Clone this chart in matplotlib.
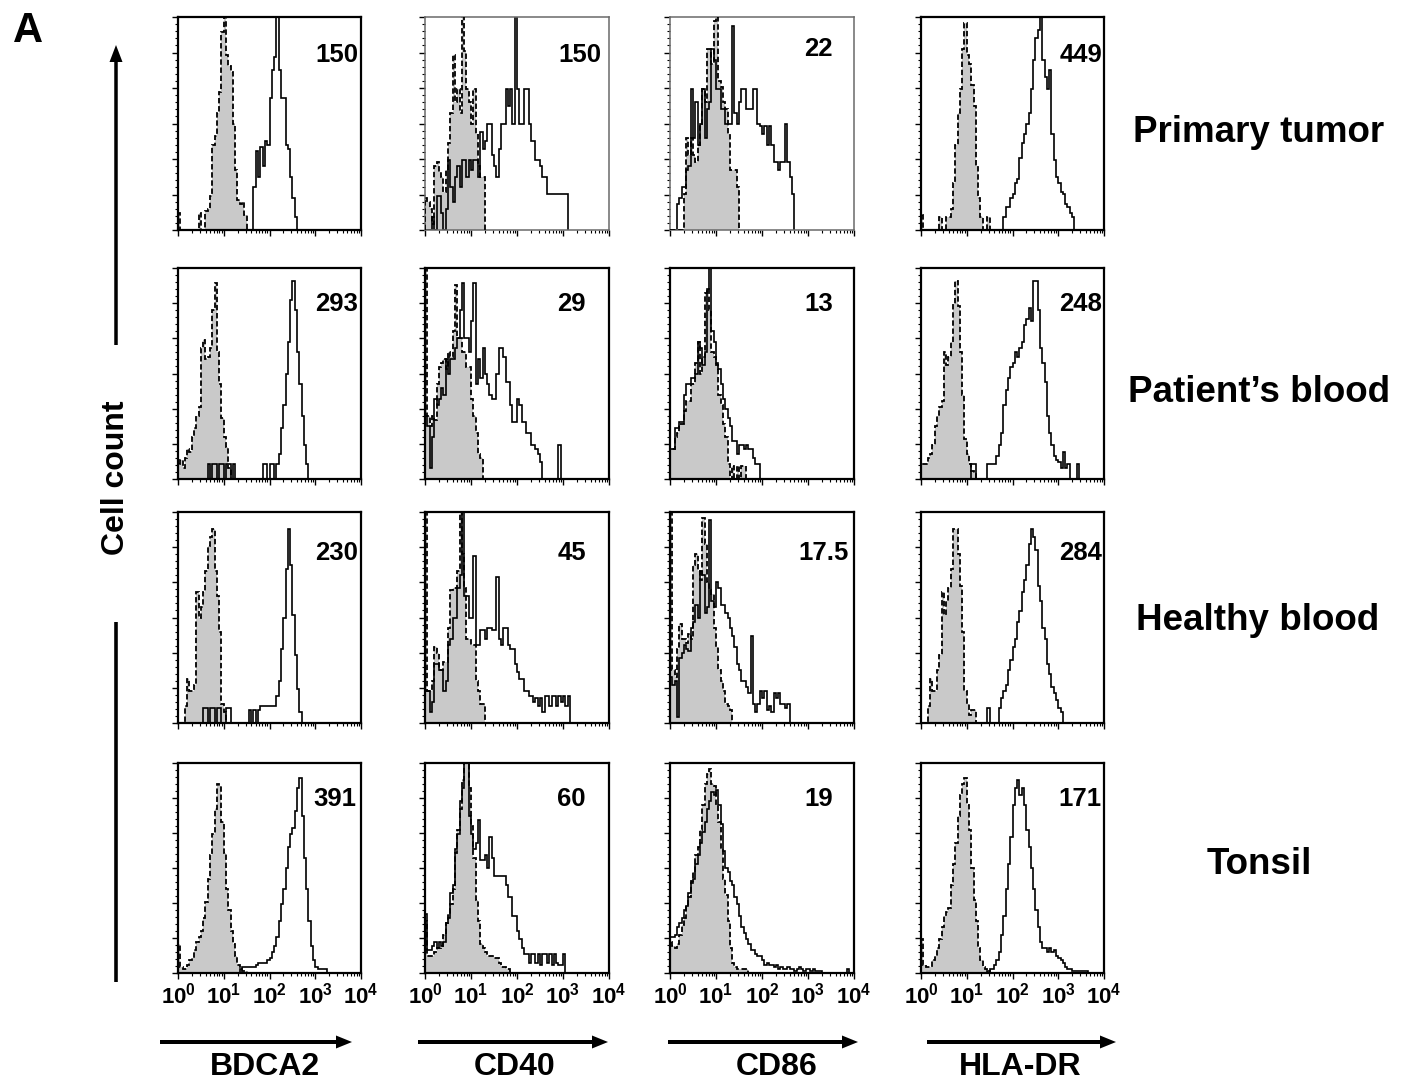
import numpy as np
import matplotlib
matplotlib.use('Agg')
import matplotlib.pyplot as plt
from matplotlib.ticker import MultipleLocator, LogLocator, NullFormatter

plt.rcParams['font.family'] = ['Liberation Sans', 'DejaVu Sans']
plt.rcParams['font.weight'] = 'bold'
plt.rcParams['mathtext.fontset'] = 'custom'
plt.rcParams['mathtext.rm'] = 'Liberation Sans:bold'
plt.rcParams['mathtext.bf'] = 'Liberation Sans:bold'
plt.rcParams['mathtext.it'] = 'Liberation Sans:bold'

# ---------------- data ----------------
BIN_WIDTH = 0.05          # decades per histogram channel, starting at 10^0
ROWS = ['Primary tumor', 'Patient\u2019s blood', 'Healthy blood', 'Tonsil']
MARKERS = ['BDCA2', 'CD40', 'CD86', 'HLA-DR']
MFI = [['150', '150', '22', '449'],
       ['293', '29', '13', '248'],
       ['230', '45', '17.5', '284'],
       ['391', '60', '19', '171']]
DECADES = [0, 1, 2, 3, 4]
TICK_LABELS = [r'$10^{0}$', r'$10^{1}$', r'$10^{2}$', r'$10^{3}$', r'$10^{4}$']

# counts in % of axis height; gray = isotype control, open = specific stain
TUMOR_BDCA2_ISO = [8, 0, 0, 0, 0, 0, 0, 0, 0, 8, 0, 0, 9, 10, 16, 40, 44, 55, 65, 93, 102, 82, 77, 74, 50, 28, 14, 12, 13, 7]
TUMOR_BDCA2_POS = [0] * 33 + [20, 37, 25, 39, 30, 42, 40, 62, 75, 81, 105, 75, 62, 62, 40, 38, 25, 15, 6]
TUMOR_CD40_ISO = [15, 13, 10, 3, 30, 32, 27, 25, 18, 28, 41, 55, 82, 60, 66, 55, 102, 84, 66, 60, 50, 66, 45, 30, 25, 25]
TUMOR_CD40_POS = [0, 0, 0, 6, 0, 16, 16, 8, 0, 10, 33, 20, 13, 25, 30, 20, 33, 33, 25, 33, 28, 33, 33, 25, 46, 38, 42, 50, 50,
                  35, 30, 25, 38, 50, 50, 66, 58, 66, 50, 104, 66, 50, 50, 66, 66, 50, 42, 42, 33, 33, 30, 25, 25, 17, 17, 17,
                  17, 17, 17, 17, 17, 17]
TUMOR_CD86_ISO = [0] * 6 + [17, 43, 35, 43, 35, 32, 40, 50, 66, 60, 85, 85, 78, 98, 100, 70, 67, 60, 57, 45, 28, 28, 28, 20]
TUMOR_CD86_POS = [0] * 3 + [12, 15, 20, 20, 28, 30, 66, 43, 60, 40, 50, 66, 43, 57, 60, 85, 80, 66, 66, 57, 57, 50, 50, 50, 96,
                            55, 50, 60, 66, 66, 57, 57, 57, 66, 66, 50, 49, 45, 49, 40, 49, 40, 32, 32, 28, 32, 32, 50, 32, 25, 17]
TUMOR_HLADR_ISO = [7, 0, 0, 0, 0, 0, 0, 0, 6, 0, 0, 6, 6, 10, 22, 40, 55, 66, 85, 97, 82, 78, 68, 58, 30, 15, 6, 0, 0, 6]
TUMOR_HLADR_POS = [0] * 36 + [6, 11, 11, 15, 17, 22, 24, 34, 41, 45, 50, 55, 66, 80, 90, 94, 103, 80, 72, 66, 75, 45, 33, 25,
                              22, 18, 17, 12, 11, 8, 6]

PATIENT_BDCA2_ISO = [7, 9, 5, 10, 14, 13, 20, 24, 30, 34, 62, 66, 57, 58, 62, 80, 93, 60, 45, 29, 20, 15, 5]
PATIENT_BDCA2_POS = [0] * 13 + [7, 0, 7, 7, 0, 7, 7, 0, 7, 7, 0, 7] + [0] * 12 + \
    [7, 7, 0, 7, 7, 0, 7, 12, 24, 35, 50, 65, 85, 94, 80, 60, 45, 30, 16, 7]
PATIENT_CD40_ISO = [100, 30, 25, 30, 28, 45, 53, 55, 57, 52, 60, 58, 70, 92, 67, 67, 60, 60, 53, 53, 38, 30, 22, 12, 10]
PATIENT_CD40_POS = [30, 25, 5, 20, 38, 35, 38, 43, 40, 57, 50, 57, 57, 62, 67, 80, 93, 67, 67, 60, 75, 93, 45, 57, 48, 62, 50,
                    45, 40, 38, 38, 50, 62, 62, 58, 46, 46, 35, 27, 27, 38, 35, 27, 27, 22, 22, 16, 16, 14, 12, 8,
                    0, 0, 0, 0, 0, 0, 0, 16]
PATIENT_CD86_ISO = [14, 14, 20, 22, 26, 26, 32, 37, 37, 45, 45, 55, 65, 50, 58, 88, 90, 80, 60, 58, 54, 40, 35, 26, 20, 7, 0,
                    6, 0, 6, 0, 6, 6]
PATIENT_CD86_POS = [14, 14, 24, 24, 27, 27, 40, 45, 45, 48, 48, 50, 65, 62, 54, 60, 90, 102, 70, 65, 55, 52, 45, 38, 33, 29,
                    25, 18, 18, 12, 16, 16, 14, 16, 14, 14, 10, 7, 7]
PATIENT_HLADR_ISO = [7, 7, 7, 10, 12, 16, 25, 30, 34, 37, 60, 54, 58, 65, 83, 94, 82, 60, 40, 19, 12, 7, 4, 3]
PATIENT_HLADR_POS = [0] * 22 + [7, 7, 0, 0, 0, 0, 0, 7, 7, 7, 7, 11, 16, 22, 35, 42, 48, 53, 55, 60, 58, 62, 65, 73, 76, 81,
                                75, 94, 94, 80, 62, 55, 46, 30, 22, 16, 11, 9, 8, 5, 13, 5, 7, 0, 0, 0, 7]

HEALTHY_BDCA2_ISO = [0, 0, 0, 8, 21, 15, 15, 18, 62, 50, 55, 62, 72, 84, 88, 92, 72, 60, 43, 9, 5]
HEALTHY_BDCA2_POS = [0] * 11 + [7, 7, 0, 7, 7, 0, 7, 7, 0, 0, 7, 7] + [0] * 8 + \
    [6, 0, 6, 0, 6, 8, 8, 8, 8, 8, 8, 8, 13, 20, 35, 50, 73, 92, 75, 51, 32, 16, 5]
HEALTHY_CD40_ISO = [100, 15, 15, 20, 36, 33, 25, 25, 29, 29, 45, 63, 64, 64, 72, 100, 80, 64, 40, 40, 37, 37, 20, 15, 9, 9]
HEALTHY_CD40_POS = [15, 15, 5, 10, 28, 28, 25, 25, 15, 20, 37, 40, 50, 50, 64, 70, 104, 60, 60, 50, 50, 79, 37, 37, 44, 44,
                    40, 45, 45, 44, 44, 69, 40, 37, 45, 45, 37, 35, 35, 28, 24, 21, 21, 15, 15, 13, 13, 10, 12, 8, 12, 5,
                    13, 13, 8, 13, 13, 8, 13, 10, 13, 8, 13]
HEALTHY_CD86_ISO = [100, 25, 22, 35, 47, 40, 40, 38, 42, 40, 75, 80, 72, 68, 97, 85, 67, 63, 61, 45, 36, 25, 20, 15, 9, 8, 6]
HEALTHY_CD86_POS = [22, 18, 20, 3, 31, 33, 37, 35, 34, 45, 48, 56, 50, 72, 70, 52, 55, 96, 58, 55, 67, 64, 56, 56, 52, 50, 45,
                    41, 36, 28, 25, 20, 20, 17, 14, 41, 9, 5, 9, 15, 12, 15, 6, 8, 5, 14, 12, 14, 9, 9, 7, 9]
HEALTHY_HLADR_ISO = [0, 0, 0, 8, 21, 15, 15, 25, 32, 62, 51, 58, 64, 73, 92, 92, 80, 65, 43, 15, 9, 4, 6, 6]
HEALTHY_HLADR_POS = [0] * 29 + [7, 0, 0, 0, 0, 7, 12, 15, 18, 25, 30, 36, 40, 48, 53, 62, 68, 75, 85, 92, 88, 82, 65, 58, 45,
                                40, 28, 23, 17, 14, 11, 7, 5]

TONSIL_BDCA2_ISO = [14, 3, 2, 2, 4, 6, 7, 11, 15, 17, 20, 26, 34, 45, 56, 66, 78, 90, 89, 72, 57, 40, 30, 20, 14, 8, 4, 2, 1, 1]
TONSIL_BDCA2_POS = [0] * 27 + [2, 3, 3, 3, 3, 3, 3, 4, 5, 5, 5, 5, 6, 7, 10, 13, 17, 25, 33, 40, 50, 60, 66, 69, 77, 88, 93,
                               75, 55, 40, 25, 13, 6, 3, 2, 2, 2, 2]
TONSIL_CD40_ISO = [25, 8, 8, 8, 10, 12, 12, 13, 18, 24, 28, 33, 40, 57, 68, 78, 92, 102, 100, 88, 70, 55, 35, 25, 14, 12, 10,
                   8, 8, 8, 7, 7, 5, 3, 3, 2, 2]
TONSIL_CD40_POS = [28, 11, 11, 13, 15, 12, 15, 13, 15, 24, 26, 38, 42, 59, 66, 82, 88, 104, 100, 75, 66, 59, 62, 73, 54, 54,
                   56, 50, 65, 55, 46, 46, 46, 46, 46, 42, 36, 36, 27, 27, 20, 16, 12, 9, 9, 5, 9, 9, 5, 9, 4, 9, 9, 5, 9,
                   4, 9, 5, 4, 4, 9]
TONSIL_CD86_ISO = [15, 13, 12, 14, 18, 23, 26, 32, 36, 44, 48, 56, 60, 68, 80, 90, 95, 97, 90, 89, 80, 72, 59, 45, 37, 25, 12,
                   5, 3, 2, 2, 2, 2, 2]
TONSIL_CD86_POS = [17, 17, 18, 22, 24, 26, 30, 32, 38, 43, 45, 52, 56, 62, 67, 72, 78, 82, 86, 85, 87, 80, 71, 58, 50, 48, 44,
                   42, 36, 33, 27, 22, 19, 16, 14, 11, 11, 9, 8, 8, 6, 4, 5, 4, 4, 3, 4, 2, 3, 2, 2, 3, 2, 2, 1, 2, 3, 2,
                   1, 2, 2, 1, 2, 1, 1, 1] + [0] * 11 + [2]
TONSIL_HLADR_ISO = [16, 4, 3, 3, 3, 6, 8, 12, 16, 22, 27, 29, 31, 42, 52, 62, 75, 85, 90, 93, 80, 68, 50, 35, 25, 12, 6, 3, 2, 1]
TONSIL_HLADR_POS = [0] * 29 + [1, 2, 2, 4, 6, 10, 18, 27, 40, 52, 65, 80, 88, 92, 85, 88, 80, 68, 60, 50, 40, 30, 22, 15, 12,
                               12, 10, 12, 10, 11, 8, 7, 6, 5, 3, 2, 2, 1, 1, 1, 1, 1, 1, 1]

ISO = [[TUMOR_BDCA2_ISO, TUMOR_CD40_ISO, TUMOR_CD86_ISO, TUMOR_HLADR_ISO],
       [PATIENT_BDCA2_ISO, PATIENT_CD40_ISO, PATIENT_CD86_ISO, PATIENT_HLADR_ISO],
       [HEALTHY_BDCA2_ISO, HEALTHY_CD40_ISO, HEALTHY_CD86_ISO, HEALTHY_HLADR_ISO],
       [TONSIL_BDCA2_ISO, TONSIL_CD40_ISO, TONSIL_CD86_ISO, TONSIL_HLADR_ISO]]
POS = [[TUMOR_BDCA2_POS, TUMOR_CD40_POS, TUMOR_CD86_POS, TUMOR_HLADR_POS],
       [PATIENT_BDCA2_POS, PATIENT_CD40_POS, PATIENT_CD86_POS, PATIENT_HLADR_POS],
       [HEALTHY_BDCA2_POS, HEALTHY_CD40_POS, HEALTHY_CD86_POS, HEALTHY_HLADR_POS],
       [TONSIL_BDCA2_POS, TONSIL_CD40_POS, TONSIL_CD86_POS, TONSIL_HLADR_POS]]

# ---------------- layout (pixels) ----------------
W, H = 1410, 1083
COL_PX = [(178, 361), (425, 609), (670, 854), (921, 1104)]
ROW_PX = [(17, 230), (268, 479), (512, 723), (763, 973)]
MFI_PX = [[(358, 62), (601, 62), (833, 56), (1102, 62)],
          [(358, 311), (586, 311), (833, 311), (1102, 311)],
          [(358, 560), (586, 560), (849, 560), (1102, 560)],
          [(356, 806), (586, 806), (833, 806), (1102, 806)]]
ROW_LABEL_PX = [(1259, 133), (1259, 393), (1258, 620), (1259, 864)]
COL_LABEL_PX = [(265, 1067), (515, 1067), (777, 1067), (1020, 1067)]
COL_ARROW_PX = [(160, 352), (418, 608), (668, 858), (927, 1116)]
ARROW_Y = 1042
GRAY = '#c9c9c9'

fig = plt.figure(figsize=(W / 100, H / 100), dpi=100)
fig.patch.set_facecolor('white')

for r in range(4):
    for c in range(4):
        x0, x1 = COL_PX[c]
        y0, y1 = ROW_PX[r]
        ax = fig.add_axes([x0 / W, 1 - y1 / H, (x1 - x0) / W, (y1 - y0) / H])
        iso = np.asarray(ISO[r][c], dtype=float)
        pos = np.asarray(POS[r][c], dtype=float)
        e_iso = 10 ** (BIN_WIDTH * np.arange(len(iso) + 1))
        e_pos = 10 ** (BIN_WIDTH * np.arange(len(pos) + 1))
        ax.stairs(iso, e_iso, fill=True, color=GRAY, lw=0, zorder=1)
        ax.stairs(pos, e_pos, color='black', lw=1.2, zorder=2)
        ax.stairs(iso, e_iso, color='black', lw=1.3, linestyle=(0, (3, 1.5)), zorder=3)
        ax.set_xscale('log')
        ax.set_xlim(10 ** DECADES[0], 10 ** DECADES[-1])
        ax.set_ylim(0, 100)
        ax.xaxis.set_minor_locator(LogLocator(base=10, subs=np.arange(2, 10), numticks=20))
        ax.xaxis.set_minor_formatter(NullFormatter())
        ax.yaxis.set_major_locator(MultipleLocator(100 / 6))
        ax.yaxis.set_minor_locator(MultipleLocator(100 / 30))
        ax.tick_params(axis='both', which='major', direction='out', length=4, width=1.0, colors='black')
        ax.tick_params(axis='both', which='minor', direction='out', length=2.2, width=0.8, colors='black')
        ax.tick_params(axis='y', labelleft=False)
        faint = (r == 0 and c in (1, 2))
        for sp in ax.spines.values():
            sp.set_linewidth(1.1 if faint else 1.6)
            sp.set_color('#6a6a6a' if faint else 'black')
        ax.set_xticks([10 ** d for d in DECADES])
        if r == 3:
            ax.set_xticklabels(TICK_LABELS, fontsize=16)
            ax.tick_params(axis='x', which='major', pad=3)
        else:
            ax.tick_params(axis='x', labelbottom=False)

# overlay in pixel coordinates for annotations
ov = fig.add_axes([0, 0, 1, 1])
ov.set_xlim(0, W)
ov.set_ylim(H, 0)
ov.axis('off')

for r in range(4):
    for c in range(4):
        x, y = MFI_PX[r][c]
        ov.text(x, y, MFI[r][c], ha='right', va='baseline', fontsize=18.5, fontweight='bold')
    x, y = ROW_LABEL_PX[r]
    ov.text(x, y, ROWS[r], ha='center', va='center', fontsize=26.5, fontweight='bold')

for c in range(4):
    xa, xb = COL_ARROW_PX[c]
    ov.arrow(xa, ARROW_Y, xb - xa, 0, width=4, head_width=13, head_length=16,
             length_includes_head=True, color='black', lw=0)
    x, y = COL_LABEL_PX[c]
    ov.text(x, y, MARKERS[c], ha='center', va='center', fontsize=23, fontweight='bold')

ov.arrow(116, 345, 0, -300, width=3.5, head_width=13, head_length=17,
         length_includes_head=True, color='black', lw=0)
ov.plot([116, 116], [622, 982], color='black', lw=2.6, solid_capstyle='butt')
ov.text(116, 478, 'Cell count', rotation=90, ha='center', va='center', fontsize=23, fontweight='bold')
ov.text(28, 31, 'A', ha='center', va='center', fontsize=30, fontweight='bold')

fig.savefig('out.png', dpi=100)
